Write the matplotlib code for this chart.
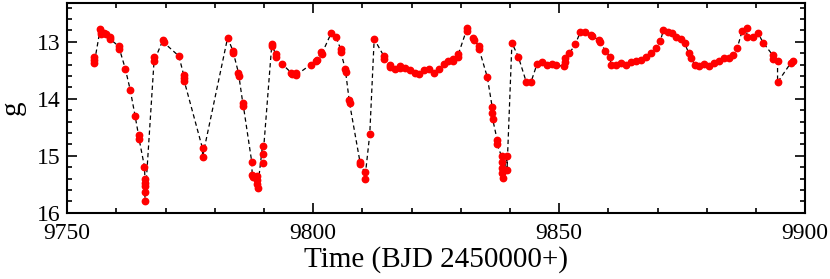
import numpy as np
import matplotlib
matplotlib.use('Agg')
import matplotlib.pyplot as plt
from matplotlib.ticker import MultipleLocator

# light curve (BJD - 2450000, g mag)
time = [
    9755.4, 9755.5, 9755.5, 9756.7, 9756.8, 9756.9, 9757.5, 9757.8, 9758.6, 9758.7,
    9760.5, 9760.6, 9761.8, 9762.8, 9763.8, 9764.5, 9764.6,
    9765.7, 9765.8, 9765.8, 9765.8, 9765.8, 9765.8,
    9767.7, 9767.7, 9769.5, 9769.6, 9772.7, 9773.7, 9773.8, 9773.8,
    9777.5, 9777.5, 9782.6, 9783.7, 9783.8, 9784.8, 9784.9, 9785.7, 9785.8,
    9787.5, 9787.6, 9787.7, 9788.5, 9788.6, 9788.6, 9788.7,
    9789.7, 9789.7, 9789.7, 9791.6, 9791.7, 9792.4, 9792.5, 9793.7,
    9795.5, 9795.6, 9796.5, 9796.6, 9799.5, 9800.6, 9800.8, 9801.6, 9801.7,
    9803.7, 9804.6, 9805.6, 9805.6, 9806.5, 9806.6, 9807.3, 9807.4,
    9809.5, 9809.5, 9810.5, 9810.5, 9811.5, 9812.4,
    9814.3, 9814.4, 9815.6, 9815.6, 9816.6, 9817.6, 9817.6, 9818.6, 9819.6,
    9820.6, 9821.6, 9822.5, 9823.5, 9824.5, 9825.6, 9826.6, 9827.4,
    9828.4, 9828.5, 9829.4, 9829.5, 9831.3, 9831.3, 9832.5, 9832.6,
    9833.7, 9833.7, 9835.4, 9836.4, 9836.4, 9836.5, 9837.4, 9837.4,
    9838.3, 9838.4, 9838.4, 9838.4, 9838.5, 9839.4, 9839.4,
    9840.4, 9841.7, 9843.3, 9844.3, 9845.5, 9846.5, 9847.6, 9848.6, 9849.4,
    9851.0, 9851.1, 9851.2, 9852.1, 9853.3, 9854.3, 9855.3, 9856.4, 9856.6,
    9858.2, 9858.4, 9859.4, 9860.4, 9860.5, 9861.6, 9862.6, 9863.5, 9864.6,
    9865.6, 9866.6, 9867.7, 9868.7, 9869.7, 9870.6, 9871.2, 9872.2, 9872.9,
    9873.7, 9874.7, 9875.5, 9876.3, 9876.8, 9877.6, 9878.5, 9879.5, 9880.5,
    9881.5, 9882.5, 9883.5, 9884.6, 9885.4, 9886.2, 9887.2, 9888.1, 9888.2,
    9889.4, 9890.4, 9891.5, 9893.4, 9893.5, 9894.4, 9894.4, 9897.1, 9897.6,
]
gmag = [
    13.27, 13.32, 13.37, 12.78, 12.82, 12.86, 12.85, 12.87, 12.91, 12.95,
    13.08, 13.12, 13.47, 13.84, 14.30, 14.64, 14.70,
    15.19, 15.40, 15.47, 15.53, 15.63, 15.80,
    13.27, 13.33, 12.96, 13.01, 13.25, 13.59, 13.64, 13.69,
    14.87, 15.02, 12.93, 13.16, 13.20, 13.54, 13.60, 14.08, 14.12,
    15.10, 15.33, 15.37, 15.35, 15.42, 15.50, 15.57,
    14.82, 14.97, 15.12, 13.03, 13.08, 13.22, 13.26, 13.39,
    13.54, 13.57, 13.55, 13.58, 13.40, 13.33, 13.31, 13.18, 13.22,
    12.84, 12.91, 13.13, 13.17, 13.47, 13.53, 14.02, 14.08,
    15.10, 15.15, 15.28, 15.41, 14.62, 12.95,
    13.24, 13.30, 13.40, 13.44, 13.47, 13.42, 13.46, 13.46, 13.49,
    13.55, 13.56, 13.49, 13.47, 13.54, 13.47, 13.39, 13.33,
    13.34, 13.30, 13.27, 13.22, 12.76, 12.81, 12.93, 12.97,
    13.07, 13.12, 13.62, 14.15, 14.25, 14.36, 14.72, 14.80,
    15.01, 15.10, 15.22, 15.30, 15.39, 15.00, 15.25,
    13.02, 13.26, 13.70, 13.70, 13.39, 13.36, 13.40, 13.39, 13.41,
    13.43, 13.36, 13.29, 13.20, 13.04, 12.83, 12.83, 12.88, 12.90,
    12.97, 13.01, 13.16, 13.26, 13.40, 13.40, 13.37, 13.40, 13.36,
    13.34, 13.32, 13.27, 13.20, 13.11, 12.98, 12.79, 12.82, 12.85,
    12.91, 12.95, 13.02, 13.19, 13.29, 13.40, 13.43, 13.39, 13.42,
    13.37, 13.34, 13.29, 13.29, 13.23, 13.11, 12.81, 12.76, 12.92,
    12.92, 12.84, 13.02, 13.23, 13.30, 13.34, 13.71, 13.37, 13.34,
]

plt.rcParams['font.family'] = ['Liberation Serif', 'DejaVu Serif']
plt.rcParams['ytick.alignment'] = 'center_baseline'

fig = plt.figure(figsize=(8.3, 2.79), dpi=100)
ax = fig.add_axes([0.081, 0.237, 0.889, 0.752])

ax.plot(time, gmag, '--', color='black', lw=0.9, dashes=(3.5, 2.5), zorder=1)
ax.plot(time, gmag, 'o', color='red', ms=4.6, mec='red', zorder=2)

ax.set_xlim(9750, 9900)
ax.set_ylim(16, 12.32)
ax.xaxis.set_major_locator(MultipleLocator(50))
ax.xaxis.set_minor_locator(MultipleLocator(10))
ax.yaxis.set_major_locator(MultipleLocator(1))
ax.yaxis.set_minor_locator(MultipleLocator(0.2))

ax.tick_params(which='both', direction='in', top=True, right=True, width=1.2)
ax.tick_params(which='major', length=7, labelsize=17)
ax.tick_params(which='minor', length=3.6)
ax.tick_params(axis='x', which='major', pad=7.5)
ax.tick_params(axis='y', which='major', pad=5)
for s in ax.spines.values():
    s.set_linewidth(1.5)

ax.set_xlabel('Time (BJD 2450000+)', fontsize=21, labelpad=1)
ax.set_ylabel('g', fontsize=21, labelpad=8)

fig.savefig('out.png', dpi=100)
